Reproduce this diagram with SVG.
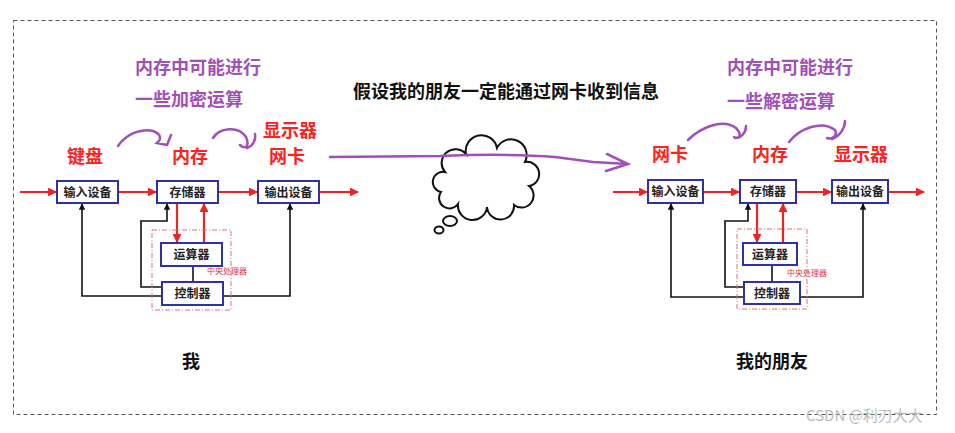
<svg xmlns="http://www.w3.org/2000/svg" width="955" height="433" viewBox="0 0 955 433">
<style>
text{font-family:"Noto Sans CJK SC","Noto Sans",sans-serif;font-weight:bold}
.box{fill:#fff;stroke:#3030a8;stroke-width:2}
.bt{font-size:12px;fill:#222;text-anchor:middle}
.red{stroke:#ee2222;stroke-width:2.2;fill:none}
.blk{stroke:#111;stroke-width:1.6;fill:none}
.cpu{fill:none;stroke:#e07070;stroke-width:1;stroke-dasharray:5 2 1 2}
.cput{font-size:8px;fill:#e03030;font-weight:normal}
.rl{font-size:18px;fill:#ff2020;text-anchor:middle}
.pl{font-size:18px;fill:#a050b8}
.pc{stroke:#a050b8;stroke-width:2.5;fill:none;stroke-linecap:round}
.bl{font-size:18px;fill:#111}
.cl{fill:#fff;stroke:#111;stroke-width:2}
</style>
<defs>
<marker id="ar" viewBox="0 0 10 10" refX="9" refY="5" markerWidth="4" markerHeight="4" orient="auto"><path d="M0,0 L10,5 L0,10 z" fill="#ee2222"/></marker>
<marker id="ab" viewBox="0 0 10 10" refX="9" refY="5" markerWidth="4" markerHeight="4" orient="auto"><path d="M0,0 L10,5 L0,10 z" fill="#111"/></marker>
</defs>
<rect x="13.5" y="20.5" width="923" height="394" fill="none" stroke="#555" stroke-width="1" stroke-dasharray="4 3"/>

<g id="cloud">
<path class="cl" d="M445,172 A5,5 0 0 1 466,154 A5,5 0 0 1 497,148 A5,5 0 0 1 525,162 A5,5 0 0 1 529,186 A5,5 0 0 1 514,205 A5,5 0 0 1 487,207 A5,5 0 0 1 458,204 A5,5 0 0 1 441,192 A5,5 0 0 1 445,172 Z"/>
<ellipse class="cl" cx="450" cy="221" rx="7" ry="5"/>
<ellipse class="cl" cx="439" cy="230" rx="4.5" ry="3.5"/>
</g>

<g id="connectors">
<line class="red" x1="20" y1="192" x2="56" y2="192" marker-end="url(#ar)"/>
<line class="red" x1="118" y1="192" x2="156" y2="192" marker-end="url(#ar)"/>
<line class="red" x1="218" y1="192" x2="257" y2="192" marker-end="url(#ar)"/>
<line class="red" x1="319" y1="192" x2="358" y2="192" marker-end="url(#ar)"/>
<line class="red" x1="177" y1="203" x2="177" y2="242" marker-end="url(#ar)"/>
<line class="red" x1="204" y1="243" x2="204" y2="204" marker-end="url(#ar)"/>
<line class="blk" x1="193" y1="282" x2="193" y2="266"/>
<polyline class="blk" points="162,287 141,287 141,221 167,221 167,204" marker-end="url(#ab)"/>
<polyline class="blk" points="162,296 82,296 82,204" marker-end="url(#ab)"/>
<polyline class="blk" points="223,296 290,296 290,204" marker-end="url(#ab)"/>
<line class="red" x1="613" y1="192" x2="647" y2="192" marker-end="url(#ar)"/>
<line class="red" x1="703" y1="192" x2="739" y2="192" marker-end="url(#ar)"/>
<line class="red" x1="796" y1="192" x2="831" y2="192" marker-end="url(#ar)"/>
<line class="red" x1="888" y1="192" x2="924" y2="192" marker-end="url(#ar)"/>
<line class="red" x1="757" y1="203" x2="757" y2="242" marker-end="url(#ar)"/>
<line class="red" x1="783" y1="243" x2="783" y2="204" marker-end="url(#ar)"/>
<line class="blk" x1="772" y1="282" x2="772" y2="265"/>
<polyline class="blk" points="744,287 725,287 725,221 748,221 748,204" marker-end="url(#ab)"/>
<polyline class="blk" points="744,297 671,297 671,204" marker-end="url(#ab)"/>
<polyline class="blk" points="800,297 863,297 863,204" marker-end="url(#ab)"/>
<path class="pc" d="M118,146 C126,134 141,128 153,131 C161,134 162,139 157,143 L167,145 M171,135 L167,145"/>
<path class="pc" d="M213,138 C219,128 238,125 246,137 C250,146 245,150 240,145 M247,148 C253,146 256,140 255,134"/>
<path class="pc" d="M688,140 C700,128 722,118 736,128 C742,134 740,140 734,137 M735,138 C742,138 746,132 746,126"/>
<path class="pc" d="M789,142 C800,128 822,120 835,130 C838,135 832,140 827,138 M832,139 C840,136 845,128 845,121"/>
<path class="pc" d="M330,157 L440,156 C490,154 530,155 555,157 L593,162 L628,164 M607,154 L628,164 L606,171"/>
</g>

<g id="left-cpu">
<rect class="cpu" x="152" y="230" width="79" height="80"/>
<text class="cput" x="207" y="274">中央处理器</text>
</g>
<g id="left-input"><rect class="box" x="57" y="181" width="61" height="22"/><text class="bt" x="87.5" y="196.5">输入设备</text></g>
<g id="left-memory"><rect class="box" x="157" y="181" width="61" height="22"/><text class="bt" x="187.5" y="196.5">存储器</text></g>
<g id="left-output"><rect class="box" x="258" y="181" width="61" height="22"/><text class="bt" x="288.5" y="196.5">输出设备</text></g>
<g id="left-alu"><rect class="box" x="161" y="243" width="61" height="23"/><text class="bt" x="191.5" y="259">运算器</text></g>
<g id="left-ctrl"><rect class="box" x="162" y="282" width="61" height="23"/><text class="bt" x="192.5" y="298">控制器</text></g>

<g id="right-cpu">
<rect class="cpu" x="737" y="229" width="70" height="80"/>
<text class="cput" x="787" y="276">中央处理器</text>
</g>
<g id="right-input"><rect class="box" x="648" y="180" width="55" height="23"/><text class="bt" x="675.5" y="196">输入设备</text></g>
<g id="right-memory"><rect class="box" x="740" y="180" width="56" height="23"/><text class="bt" x="768" y="196">存储器</text></g>
<g id="right-output"><rect class="box" x="832" y="180" width="56" height="23"/><text class="bt" x="860" y="196">输出设备</text></g>
<g id="right-alu"><rect class="box" x="743" y="243" width="54" height="22"/><text class="bt" x="770" y="258.5">运算器</text></g>
<g id="right-ctrl"><rect class="box" x="744" y="282" width="56" height="22"/><text class="bt" x="772" y="297.5">控制器</text></g>

<g id="labels">
<text class="rl" x="85" y="163">键盘</text>
<text class="rl" x="190" y="163">内存</text>
<text class="rl" x="290" y="137">显示器</text>
<text class="rl" x="287" y="163">网卡</text>
<text class="pl" x="135" y="74">内存中可能进行</text>
<text class="pl" x="135" y="106">一些加密运算</text>
<text class="bl" x="353" y="98">假设我的朋友一定能通过网卡收到信息</text>
<text class="rl" x="670" y="161">网卡</text>
<text class="rl" x="770" y="161">内存</text>
<text class="rl" x="861" y="161">显示器</text>
<text class="pl" x="727" y="74">内存中可能进行</text>
<text class="pl" x="727" y="108">一些解密运算</text>
<text class="bl" x="191" y="368" text-anchor="middle">我</text>
<text class="bl" x="772" y="368" text-anchor="middle">我的朋友</text>
<text x="806" y="421" style="font-size:15px;fill:#bbbbbb;font-weight:normal">CSDN @利刃大大</text>
</g>
</svg>
